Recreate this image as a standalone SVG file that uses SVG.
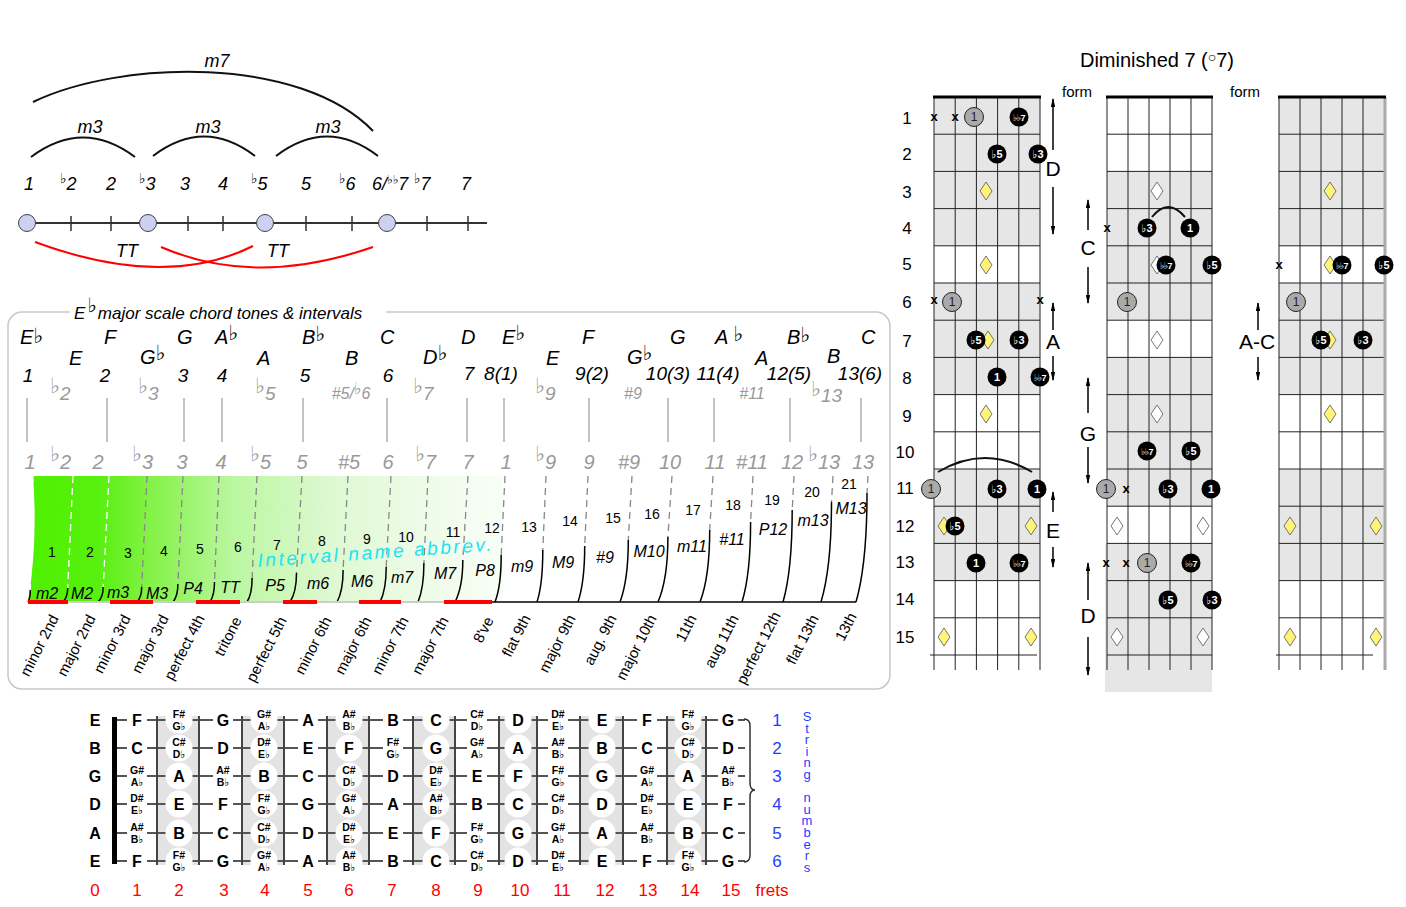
<svg xmlns="http://www.w3.org/2000/svg" width="1406" height="907" viewBox="0 0 1406 907">
<style>
text{font-family:"Liberation Sans",Arial,"DejaVu Sans",sans-serif;fill:#000}
.t18{font-size:18px;font-style:italic}
.c{text-anchor:middle}
.nm{font-size:20px;font-style:italic}
.num{font-size:19px;font-style:italic}
.gr{fill:#999}
.fb{font-size:21px}
.n1{font-size:14px;text-anchor:middle}
.ab{font-size:16px;font-style:italic;text-anchor:middle}
.rl{font-size:15px;text-anchor:end}
.arc{fill:none;stroke:#111;stroke-width:2}
.red{fill:none;stroke:#f00;stroke-width:2}
.fn{font-size:16px;font-weight:bold;text-anchor:middle}
.fa{font-size:10.5px;font-weight:bold;text-anchor:middle}
.fr{font-size:17px;fill:#f00;text-anchor:middle}
.sn{font-size:17px;fill:#1f3dff;text-anchor:middle}
.sh{fill:#e3e3e3}
.cs{fill:#e6e6e6}
.grid{fill:none;stroke:#222;stroke-width:1}
.wc{fill:#fff}
.bc{fill:#000}
.bt{font-size:11px;font-weight:bold;fill:#fff;text-anchor:middle}
.bt2{font-size:9px;font-weight:bold;fill:#fff;text-anchor:middle;letter-spacing:-0.5px}
.gc{fill:#aaa;stroke:#222;stroke-width:1}
.gt{font-size:12px;fill:#222;text-anchor:middle}
.x{font-size:13px;font-weight:bold;text-anchor:middle}
.lb{font-size:21px;text-anchor:middle}
.fl{font-size:17px;text-anchor:middle}
.ar{stroke:#000;stroke-width:1.5;marker-end:url(#ah)}
</style>
<defs>
<marker id="ah" viewBox="0 0 10 5" refX="9" refY="2.5" markerWidth="6" markerHeight="3" orient="auto"><path d="M0,0L10,2.5L0,5Z" fill="#000"/></marker>
<path id="dy" d="M0,-9L6,0L0,9L-6,0Z" fill="#fff37a" stroke="#555" stroke-width="0.8"/>
<path id="dw" d="M0,-9L6,0L0,9L-6,0Z" fill="#fff" stroke="#555" stroke-width="0.8"/>
<linearGradient id="gg" x1="28" y1="0" x2="503" y2="0" gradientUnits="userSpaceOnUse">
<stop offset="0" stop-color="#4ff000"/>
<stop offset="0.15" stop-color="#58f010"/>
<stop offset="0.26" stop-color="#85f248"/>
<stop offset="0.43" stop-color="#b9f79f"/>
<stop offset="0.64" stop-color="#def9d2"/>
<stop offset="0.89" stop-color="#f2fcee"/>
<stop offset="1" stop-color="#f8fef6"/>
</linearGradient>
</defs>
<rect width="1406" height="907" fill="#fff"/>

<g id="interval-line">
<path class="arc" d="M33,102 C120,60 300,55 373,131"/>
<path class="arc" d="M31,157 Q83,118 135,157"/>
<path class="arc" d="M153,156 Q204,117 255,156"/>
<path class="arc" d="M276,156 Q327,117 378,156"/>
<text class="t18 c" x="217" y="67">m7</text>
<text class="t18 c" x="90" y="133">m3</text>
<text class="t18 c" x="208" y="133">m3</text>
<text class="t18 c" x="328" y="133">m3</text>
<text class="t18 c" x="29" y="190">1</text>
<text class="t18" x="60" y="190"><tspan font-size="14" dy="-7">♭</tspan><tspan dy="7">2</tspan></text>
<text class="t18 c" x="111" y="190">2</text>
<text class="t18" x="139" y="190"><tspan font-size="14" dy="-7">♭</tspan><tspan dy="7">3</tspan></text>
<text class="t18 c" x="185" y="190">3</text>
<text class="t18 c" x="223" y="190">4</text>
<text class="t18" x="251" y="190"><tspan font-size="14" dy="-7">♭</tspan><tspan dy="7">5</tspan></text>
<text class="t18 c" x="306" y="190">5</text>
<text class="t18" x="339" y="190"><tspan font-size="14" dy="-7">♭</tspan><tspan dy="7">6</tspan></text>
<text class="t18" x="372" y="190" font-size="16">6/<tspan font-size="12" dy="-6">♭♭</tspan><tspan dy="6">7</tspan></text>
<text class="t18" x="414" y="190"><tspan font-size="14" dy="-7">♭</tspan><tspan dy="7">7</tspan></text>
<text class="t18 c" x="466" y="190">7</text>
<line x1="27" y1="223" x2="487" y2="223" stroke="#333" stroke-width="2"/>
<path d="M71,216V231M111,216V231M188,216V231M223,216V231M306,216V231M352,216V231M427,216V231M468,216V231" stroke="#333" stroke-width="1.5"/>
<circle cx="27" cy="223" r="8.5" fill="#ccd1f2" stroke="#444" stroke-width="1"/>
<circle cx="148" cy="223" r="8.5" fill="#ccd1f2" stroke="#444" stroke-width="1"/>
<circle cx="265" cy="223" r="8.5" fill="#ccd1f2" stroke="#444" stroke-width="1"/>
<circle cx="387" cy="223" r="8.5" fill="#ccd1f2" stroke="#444" stroke-width="1"/>
<path class="red" d="M35,242 Q165,290 253,246"/>
<path class="red" d="M161,247 Q255,288 373,247"/>
<text class="t18 c" x="127" y="257">TT</text>
<text class="t18 c" x="278" y="257">TT</text>
</g>

<g id="chord-tones">
<rect x="8" y="312" width="882" height="377" rx="14" fill="none" stroke="#c8c8c8" stroke-width="1.5"/>
<rect x="70" y="300" width="316" height="22" fill="#fff"/>
<text font-size="17" font-style="italic" x="74" y="319">E<tspan font-size="20" dy="-7" dx="2">♭</tspan><tspan dy="7" dx="1">major scale chord tones &amp; intervals</tspan></text>

<text class="nm" x="20" y="344">E<tspan class="fb" dy="-1">♭</tspan></text>
<text class="nm" x="69" y="365">E</text>
<text class="nm" x="104" y="344">F</text>
<text class="nm" x="140" y="364">G<tspan class="fb" dy="-4">♭</tspan></text>
<text class="nm" x="177" y="344">G</text>
<text class="nm" x="215" y="344">A<tspan class="fb" dy="-4">♭</tspan></text>
<text class="nm" x="257" y="365">A</text>
<text class="nm" x="302" y="344">B<tspan class="fb" dy="-3">♭</tspan></text>
<text class="nm" x="345" y="365">B</text>
<text class="nm" x="380" y="344">C</text>
<text class="nm" x="423" y="364">D<tspan class="fb" dy="-4">♭</tspan></text>
<text class="nm" x="461" y="344">D</text>
<text class="nm" x="502" y="344">E<tspan class="fb" dy="-4">♭</tspan></text>
<text class="nm" x="546" y="365">E</text>
<text class="nm" x="582" y="344">F</text>
<text class="nm" x="627" y="364">G<tspan class="fb" dy="-4">♭</tspan></text>
<text class="nm" x="670" y="344">G</text>
<text class="nm" x="715" y="344">A <tspan class="fb" dy="-3">♭</tspan></text>
<text class="nm" x="755" y="365">A</text>
<text class="nm" x="787" y="344">B<tspan class="fb" dy="-2">♭</tspan></text>
<text class="nm" x="827" y="363">B</text>
<text class="nm" x="861" y="344">C</text>

<text class="num c" x="28" y="382">1</text>
<text class="num c" x="105" y="382">2</text>
<text class="num c" x="183" y="382">3</text>
<text class="num c" x="222" y="382">4</text>
<text class="num c" x="305" y="382">5</text>
<text class="num c" x="388" y="382">6</text>
<text class="num c" x="469" y="380">7</text>
<text class="num c" x="501" y="380">8(1)</text>
<text class="num c" x="592" y="380">9(2)</text>
<text class="num c" x="668" y="380">10(3)</text>
<text class="num c" x="718" y="380">11(4)</text>
<text class="num c" x="789" y="380">12(5)</text>
<text class="num c" x="860" y="380">13(6)</text>

<g>
<text class="num gr" x="50" y="400"><tspan class="fb" dy="-7">♭</tspan><tspan dy="7">2</tspan></text>
<text class="num gr" x="138" y="400"><tspan class="fb" dy="-7">♭</tspan><tspan dy="7">3</tspan></text>
<text class="num gr" x="255" y="400"><tspan class="fb" dy="-7">♭</tspan><tspan dy="7">5</tspan></text>
<text class="gr c" font-size="16" font-style="italic" x="351" y="399">#5/<tspan font-size="16" dy="-5">♭</tspan><tspan dy="5">6</tspan></text>
<text class="num gr" x="413" y="400"><tspan class="fb" dy="-7">♭</tspan><tspan dy="7">7</tspan></text>
<text class="num gr" x="535" y="400"><tspan class="fb" dy="-7">♭</tspan><tspan dy="7">9</tspan></text>
<text class="gr c" font-size="16" font-style="italic" x="633" y="399">#9</text>
<text class="gr c" font-size="16" font-style="italic" x="752" y="399">#11</text>
<text class="num gr" x="811" y="402"><tspan class="fb" dy="-6">♭</tspan><tspan dy="6">13</tspan></text>
</g>

<path d="M27,398V442M107,398V442M184,398V442M222,398V442M303,398V442M387,398V442M467,398V442M504,398V442M589,398V442M668,398V442M714,398V442M790,398V442M861,398V442" stroke="#b0b0b0" stroke-width="1.5"/>

<g font-size="20" font-style="italic">
<text class="gr c" x="30" y="469">1</text>
<text class="gr" x="50" y="469"><tspan class="fb" dy="-8">♭</tspan><tspan dy="8">2</tspan></text>
<text class="gr c" x="98" y="469">2</text>
<text class="gr" x="132" y="469"><tspan class="fb" dy="-8">♭</tspan><tspan dy="8">3</tspan></text>
<text class="gr c" x="182" y="469">3</text>
<text class="gr c" x="221" y="469">4</text>
<text class="gr" x="250" y="469"><tspan class="fb" dy="-8">♭</tspan><tspan dy="8">5</tspan></text>
<text class="gr c" x="302" y="469">5</text>
<text class="gr c" x="349" y="469">#5</text>
<text class="gr c" x="388" y="469">6</text>
<text class="gr" x="415" y="469"><tspan class="fb" dy="-8">♭</tspan><tspan dy="8">7</tspan></text>
<text class="gr c" x="468" y="469">7</text>
<text class="gr c" x="506" y="469">1</text>
<text class="gr" x="535" y="469"><tspan class="fb" dy="-8">♭</tspan><tspan dy="8">9</tspan></text>
<text class="gr c" x="589" y="469">9</text>
<text class="gr c" x="629" y="469">#9</text>
<text class="gr c" x="670" y="469">10</text>
<text class="gr c" x="715" y="469">11</text>
<text class="gr c" x="752" y="469">#11</text>
<text class="gr c" x="792" y="469">12</text>
<text class="gr" x="808" y="469"><tspan class="fb" dy="-8">♭</tspan><tspan dy="8">13</tspan></text>
<text class="gr c" x="863" y="469">13</text>
</g>

<path d="M33,476L503,476L503,602L28,602Q38,540 33,476Z" fill="url(#gg)"/>
<path d="M33,476L30.3,590M73,476L67.7,588M109,476L103.2,587" fill="none" stroke="#fff" stroke-width="1.3" stroke-dasharray="7 5"/>
<path d="M147,476L141.7,587M183,476L177.9,584M219,476L214.5,582M257,476L252.1,578M302,476L296.5,573M348,476L343.1,570M391,476L386.2,567M428,476L423.9,563M468,476L462.8,560M505,476L501.2,555M546,476L542.8,550M588,476L584.7,546M632,476L628.3,540M672,476L667.9,537M713,476L709.7,530M753,476L750.6,522M794,476L792.2,510M833,476L831.5,502M868,476L867,493" fill="none" stroke="#888" stroke-width="1.3" stroke-dasharray="7 5"/>
<path d="M30.3,590Q30.3,598 28,602M67.7,588Q67.7,597 63,602M103.2,587Q103.2,597 98,602M141.7,587Q141.7,597 137,602M177.9,584Q177.9,596 173,602M214.5,582Q214.5,595 210,602M252.1,578Q252.1,594 247,602M296.5,573Q296.5,592 290,602M343.1,570Q343.1,591 337,602M386.2,567Q386.2,590 380,602M423.9,563Q423.9,588 418,602M462.8,560Q462.8,587 455,602M501.2,555Q501.2,586 495,602M542.8,550Q542.8,584 537,602M584.7,546Q584.7,582 578,602M628.3,540Q628.3,580 620,602M667.9,537Q667.9,579 658,602M709.7,530Q709.7,577 700,602M750.6,522Q750.6,574 742,602M792.2,510Q792.2,570 783,602M831.5,502Q831.5,567 821,602M867,493Q867,564 856,602" fill="none" stroke="#000" stroke-width="1.5"/>
<line x1="28" y1="602" x2="492" y2="602" stroke="#ccc" stroke-width="2"/>
<line x1="492" y1="602" x2="856" y2="602" stroke="#000" stroke-width="1.5"/>
<g fill="#f00">
<rect x="28" y="600" width="40" height="4"/>
<rect x="110" y="600" width="43" height="4"/>
<rect x="196" y="600" width="44" height="4"/>
<rect x="283" y="600" width="34" height="4"/>
<rect x="359" y="600" width="42" height="4"/>
<rect x="444" y="600" width="48" height="4"/>
</g>

<text class="n1" x="52" y="557">1</text>
<text class="n1" x="90" y="557">2</text>
<text class="n1" x="128" y="558">3</text>
<text class="n1" x="164" y="556">4</text>
<text class="n1" x="200" y="554">5</text>
<text class="n1" x="238" y="552">6</text>
<text class="n1" x="277" y="550">7</text>
<text class="n1" x="322" y="546">8</text>
<text class="n1" x="367" y="544">9</text>
<text class="n1" x="406" y="542">10</text>
<text class="n1" x="453" y="537">11</text>
<text class="n1" x="492" y="533">12</text>
<text class="n1" x="529" y="532">13</text>
<text class="n1" x="570" y="526">14</text>
<text class="n1" x="613" y="523">15</text>
<text class="n1" x="652" y="519">16</text>
<text class="n1" x="693" y="515">17</text>
<text class="n1" x="733" y="510">18</text>
<text class="n1" x="772" y="505">19</text>
<text class="n1" x="812" y="497">20</text>
<text class="n1" x="849" y="489">21</text>

<text class="ab" x="47" y="599">m2</text>
<text class="ab" x="82" y="599">M2</text>
<text class="ab" x="118" y="598">m3</text>
<text class="ab" x="157" y="599">M3</text>
<text class="ab" x="193" y="594">P4</text>
<text class="ab" x="230" y="593">TT</text>
<text class="ab" x="275" y="591">P5</text>
<text class="ab" x="318" y="589">m6</text>
<text class="ab" x="362" y="587">M6</text>
<text class="ab" x="402" y="583">m7</text>
<text class="ab" x="445" y="579">M7</text>
<text class="ab" x="485" y="576">P8</text>
<text class="ab" x="522" y="572">m9</text>
<text class="ab" x="563" y="568">M9</text>
<text class="ab" x="605" y="563">#9</text>
<text class="ab" x="649" y="557">M10</text>
<text class="ab" x="692" y="552">m11</text>
<text class="ab" x="732" y="545">#11</text>
<text class="ab" x="773" y="535">P12</text>
<text class="ab" x="813" y="526">m13</text>
<text class="ab" x="851" y="514">M13</text>

<text transform="translate(258,567) rotate(-4)" font-size="19" font-style="italic" letter-spacing="2.6" style="fill:#1ee3f3">Interval name abbrev.</text>

<g>
<text class="rl" transform="translate(59,618) rotate(-63)">minor 2nd</text>
<text class="rl" transform="translate(96,618) rotate(-63)">major 2nd</text>
<text class="rl" transform="translate(131,618) rotate(-63)">minor 3rd</text>
<text class="rl" transform="translate(169,618) rotate(-63)">major 3rd</text>
<text class="rl" transform="translate(205,618) rotate(-63)">perfect 4th</text>
<text class="rl" transform="translate(242,620) rotate(-63)">tritone</text>
<text class="rl" transform="translate(287,620) rotate(-63)">perfect 5th</text>
<text class="rl" transform="translate(332,620) rotate(-63)">minor 6th</text>
<text class="rl" transform="translate(372,620) rotate(-63)">major 6th</text>
<text class="rl" transform="translate(409,620) rotate(-63)">minor 7th</text>
<text class="rl" transform="translate(449,620) rotate(-63)">major 7th</text>
<text class="rl" transform="translate(494,620) rotate(-63)">8've</text>
<text class="rl" transform="translate(531,618) rotate(-63)">flat 9th</text>
<text class="rl" transform="translate(576,618) rotate(-63)">major 9th</text>
<text class="rl" transform="translate(617,618) rotate(-63)">aug. 9th</text>
<text class="rl" transform="translate(657,618) rotate(-63)">major 10th</text>
<text class="rl" transform="translate(697,618) rotate(-63)">11th</text>
<text class="rl" transform="translate(739,618) rotate(-63)">aug 11th</text>
<text class="rl" transform="translate(781,615) rotate(-63)">perfect 12th</text>
<text class="rl" transform="translate(819,618) rotate(-63)">flat 13th</text>
<text class="rl" transform="translate(857,616) rotate(-63)">13th</text>
</g>
</g>

<g id="fretboard">
<rect class="sh" x="157" y="716" width="42" height="149"/>
<rect class="sh" x="242" y="716" width="42" height="149"/>
<rect class="sh" x="327" y="716" width="42" height="149"/>
<rect class="sh" x="413" y="716" width="42" height="149"/>
<rect class="sh" x="499" y="716" width="38" height="149"/>
<rect class="sh" x="580" y="716" width="43" height="149"/>
<rect class="sh" x="667" y="716" width="39" height="149"/>
<path d="M117,720H745M117,748H745M117,776H745M117,804H745M117,833H745M117,861H745" stroke="#555" stroke-width="2"/>
<path d="M157,716V865M199,716V865M242,716V865M284,716V865M327,716V865M369,716V865M413,716V865M455,716V865M499,716V865M537,716V865M580,716V865M623,716V865M667,716V865M706,716V865" stroke="#444" stroke-width="2"/>
<rect x="112" y="717" width="5" height="147" fill="#000"/>
<path fill="#fff" d="M127,709h20v22h-20zM213,709h20v22h-20zM298,709h20v22h-20zM383,709h20v22h-20zM467,709h20v22h-20zM548,709h20v22h-20zM637,709h20v22h-20zM718,709h20v22h-20z
M127,737h20v22h-20zM213,737h20v22h-20zM298,737h20v22h-20zM383,737h20v22h-20zM467,737h20v22h-20zM548,737h20v22h-20zM637,737h20v22h-20zM718,737h20v22h-20z
M127,765h20v22h-20zM213,765h20v22h-20zM298,765h20v22h-20zM383,765h20v22h-20zM467,765h20v22h-20zM548,765h20v22h-20zM637,765h20v22h-20zM718,765h20v22h-20z
M127,793h20v22h-20zM213,793h20v22h-20zM298,793h20v22h-20zM383,793h20v22h-20zM467,793h20v22h-20zM548,793h20v22h-20zM637,793h20v22h-20zM718,793h20v22h-20z
M127,822h20v22h-20zM213,822h20v22h-20zM298,822h20v22h-20zM383,822h20v22h-20zM467,822h20v22h-20zM548,822h20v22h-20zM637,822h20v22h-20zM718,822h20v22h-20z
M127,850h20v22h-20zM213,850h20v22h-20zM298,850h20v22h-20zM383,850h20v22h-20zM467,850h20v22h-20zM548,850h20v22h-20zM637,850h20v22h-20zM718,850h20v22h-20z"/>
<g class="wc">
<circle cx="179" cy="720" r="13.5"/><circle cx="264" cy="720" r="13.5"/><circle cx="349" cy="720" r="13.5"/><circle cx="436" cy="720" r="13.5"/><circle cx="518" cy="720" r="13.5"/><circle cx="602" cy="720" r="13.5"/><circle cx="688" cy="720" r="13.5"/>
<circle cx="179" cy="748" r="13.5"/><circle cx="264" cy="748" r="13.5"/><circle cx="349" cy="748" r="13.5"/><circle cx="436" cy="748" r="13.5"/><circle cx="518" cy="748" r="13.5"/><circle cx="602" cy="748" r="13.5"/><circle cx="688" cy="748" r="13.5"/>
<circle cx="179" cy="776" r="13.5"/><circle cx="264" cy="776" r="13.5"/><circle cx="349" cy="776" r="13.5"/><circle cx="436" cy="776" r="13.5"/><circle cx="518" cy="776" r="13.5"/><circle cx="602" cy="776" r="13.5"/><circle cx="688" cy="776" r="13.5"/>
<circle cx="179" cy="804" r="13.5"/><circle cx="264" cy="804" r="13.5"/><circle cx="349" cy="804" r="13.5"/><circle cx="436" cy="804" r="13.5"/><circle cx="518" cy="804" r="13.5"/><circle cx="602" cy="804" r="13.5"/><circle cx="688" cy="804" r="13.5"/>
<circle cx="179" cy="833" r="13.5"/><circle cx="264" cy="833" r="13.5"/><circle cx="349" cy="833" r="13.5"/><circle cx="436" cy="833" r="13.5"/><circle cx="518" cy="833" r="13.5"/><circle cx="602" cy="833" r="13.5"/><circle cx="688" cy="833" r="13.5"/>
<circle cx="179" cy="861" r="13.5"/><circle cx="264" cy="861" r="13.5"/><circle cx="349" cy="861" r="13.5"/><circle cx="436" cy="861" r="13.5"/><circle cx="518" cy="861" r="13.5"/><circle cx="602" cy="861" r="13.5"/><circle cx="688" cy="861" r="13.5"/>
</g>
<path d="M744,719Q750,719 750,726L750,783Q750,790 755,790Q750,790 750,797L750,855Q750,862 744,862" fill="none" stroke="#333" stroke-width="1.5"/>

<text class="fn" x="95" y="726">E</text>
<text class="fn" x="95" y="754">B</text>
<text class="fn" x="95" y="782">G</text>
<text class="fn" x="95" y="810">D</text>
<text class="fn" x="95" y="839">A</text>
<text class="fn" x="95" y="867">E</text>

<text class="fn" x="137" y="726">F</text>
<text class="fa" x="179" y="718">F#<tspan x="179" dy="12">G♭</tspan></text>
<text class="fn" x="223" y="726">G</text>
<text class="fa" x="264" y="718">G#<tspan x="264" dy="12">A♭</tspan></text>
<text class="fn" x="308" y="726">A</text>
<text class="fa" x="349" y="718">A#<tspan x="349" dy="12">B♭</tspan></text>
<text class="fn" x="393" y="726">B</text>
<text class="fn" x="436" y="726">C</text>
<text class="fa" x="477" y="718">C#<tspan x="477" dy="12">D♭</tspan></text>
<text class="fn" x="518" y="726">D</text>
<text class="fa" x="558" y="718">D#<tspan x="558" dy="12">E♭</tspan></text>
<text class="fn" x="602" y="726">E</text>
<text class="fn" x="647" y="726">F</text>
<text class="fa" x="688" y="718">F#<tspan x="688" dy="12">G♭</tspan></text>
<text class="fn" x="728" y="726">G</text>

<text class="fn" x="137" y="754">C</text>
<text class="fa" x="179" y="746">C#<tspan x="179" dy="12">D♭</tspan></text>
<text class="fn" x="223" y="754">D</text>
<text class="fa" x="264" y="746">D#<tspan x="264" dy="12">E♭</tspan></text>
<text class="fn" x="308" y="754">E</text>
<text class="fn" x="349" y="754">F</text>
<text class="fa" x="393" y="746">F#<tspan x="393" dy="12">G♭</tspan></text>
<text class="fn" x="436" y="754">G</text>
<text class="fa" x="477" y="746">G#<tspan x="477" dy="12">A♭</tspan></text>
<text class="fn" x="518" y="754">A</text>
<text class="fa" x="558" y="746">A#<tspan x="558" dy="12">B♭</tspan></text>
<text class="fn" x="602" y="754">B</text>
<text class="fn" x="647" y="754">C</text>
<text class="fa" x="688" y="746">C#<tspan x="688" dy="12">D♭</tspan></text>
<text class="fn" x="728" y="754">D</text>

<text class="fa" x="137" y="774">G#<tspan x="137" dy="12">A♭</tspan></text>
<text class="fn" x="179" y="782">A</text>
<text class="fa" x="223" y="774">A#<tspan x="223" dy="12">B♭</tspan></text>
<text class="fn" x="264" y="782">B</text>
<text class="fn" x="308" y="782">C</text>
<text class="fa" x="349" y="774">C#<tspan x="349" dy="12">D♭</tspan></text>
<text class="fn" x="393" y="782">D</text>
<text class="fa" x="436" y="774">D#<tspan x="436" dy="12">E♭</tspan></text>
<text class="fn" x="477" y="782">E</text>
<text class="fn" x="518" y="782">F</text>
<text class="fa" x="558" y="774">F#<tspan x="558" dy="12">G♭</tspan></text>
<text class="fn" x="602" y="782">G</text>
<text class="fa" x="647" y="774">G#<tspan x="647" dy="12">A♭</tspan></text>
<text class="fn" x="688" y="782">A</text>
<text class="fa" x="728" y="774">A#<tspan x="728" dy="12">B♭</tspan></text>

<text class="fa" x="137" y="802">D#<tspan x="137" dy="12">E♭</tspan></text>
<text class="fn" x="179" y="810">E</text>
<text class="fn" x="223" y="810">F</text>
<text class="fa" x="264" y="802">F#<tspan x="264" dy="12">G♭</tspan></text>
<text class="fn" x="308" y="810">G</text>
<text class="fa" x="349" y="802">G#<tspan x="349" dy="12">A♭</tspan></text>
<text class="fn" x="393" y="810">A</text>
<text class="fa" x="436" y="802">A#<tspan x="436" dy="12">B♭</tspan></text>
<text class="fn" x="477" y="810">B</text>
<text class="fn" x="518" y="810">C</text>
<text class="fa" x="558" y="802">C#<tspan x="558" dy="12">D♭</tspan></text>
<text class="fn" x="602" y="810">D</text>
<text class="fa" x="647" y="802">D#<tspan x="647" dy="12">E♭</tspan></text>
<text class="fn" x="688" y="810">E</text>
<text class="fn" x="728" y="810">F</text>

<text class="fa" x="137" y="831">A#<tspan x="137" dy="12">B♭</tspan></text>
<text class="fn" x="179" y="839">B</text>
<text class="fn" x="223" y="839">C</text>
<text class="fa" x="264" y="831">C#<tspan x="264" dy="12">D♭</tspan></text>
<text class="fn" x="308" y="839">D</text>
<text class="fa" x="349" y="831">D#<tspan x="349" dy="12">E♭</tspan></text>
<text class="fn" x="393" y="839">E</text>
<text class="fn" x="436" y="839">F</text>
<text class="fa" x="477" y="831">F#<tspan x="477" dy="12">G♭</tspan></text>
<text class="fn" x="518" y="839">G</text>
<text class="fa" x="558" y="831">G#<tspan x="558" dy="12">A♭</tspan></text>
<text class="fn" x="602" y="839">A</text>
<text class="fa" x="647" y="831">A#<tspan x="647" dy="12">B♭</tspan></text>
<text class="fn" x="688" y="839">B</text>
<text class="fn" x="728" y="839">C</text>

<text class="fn" x="137" y="867">F</text>
<text class="fa" x="179" y="859">F#<tspan x="179" dy="12">G♭</tspan></text>
<text class="fn" x="223" y="867">G</text>
<text class="fa" x="264" y="859">G#<tspan x="264" dy="12">A♭</tspan></text>
<text class="fn" x="308" y="867">A</text>
<text class="fa" x="349" y="859">A#<tspan x="349" dy="12">B♭</tspan></text>
<text class="fn" x="393" y="867">B</text>
<text class="fn" x="436" y="867">C</text>
<text class="fa" x="477" y="859">C#<tspan x="477" dy="12">D♭</tspan></text>
<text class="fn" x="518" y="867">D</text>
<text class="fa" x="558" y="859">D#<tspan x="558" dy="12">E♭</tspan></text>
<text class="fn" x="602" y="867">E</text>
<text class="fn" x="647" y="867">F</text>
<text class="fa" x="688" y="859">F#<tspan x="688" dy="12">G♭</tspan></text>
<text class="fn" x="728" y="867">G</text>

<text class="fr" x="95" y="896">0</text>
<text class="fr" x="137" y="896">1</text>
<text class="fr" x="179" y="896">2</text>
<text class="fr" x="224" y="896">3</text>
<text class="fr" x="265" y="896">4</text>
<text class="fr" x="308" y="896">5</text>
<text class="fr" x="349" y="896">6</text>
<text class="fr" x="392" y="896">7</text>
<text class="fr" x="436" y="896">8</text>
<text class="fr" x="478" y="896">9</text>
<text class="fr" x="520" y="896">10</text>
<text class="fr" x="562" y="896">11</text>
<text class="fr" x="605" y="896">12</text>
<text class="fr" x="648" y="896">13</text>
<text class="fr" x="690" y="896">14</text>
<text class="fr" x="731" y="896">15</text>
<text class="fr" x="772" y="896">frets</text>

<text class="sn" x="777" y="726">1</text>
<text class="sn" x="777" y="754">2</text>
<text class="sn" x="777" y="782">3</text>
<text class="sn" x="777" y="810">4</text>
<text class="sn" x="777" y="839">5</text>
<text class="sn" x="777" y="867">6</text>
<text x="807" y="709" font-size="13" letter-spacing="-3.4" style="fill:#1f3dff;writing-mode:vertical-rl;text-orientation:upright">String numbers</text>
</g>

<g id="chord-title">
<text font-size="20" x="1157" y="67" text-anchor="middle">Diminished 7 (<tspan font-size="14" dy="-5">○</tspan><tspan dy="5">7)</tspan></text>
<text font-size="15" x="1077" y="97" text-anchor="middle">form</text>
<text font-size="15" x="1245" y="97" text-anchor="middle">form</text>
</g>
<g id="fret-numbers">
<text class="fl" x="907" y="124">1</text>
<text class="fl" x="907" y="160">2</text>
<text class="fl" x="907" y="198">3</text>
<text class="fl" x="907" y="234">4</text>
<text class="fl" x="907" y="270">5</text>
<text class="fl" x="907" y="308">6</text>
<text class="fl" x="907" y="347">7</text>
<text class="fl" x="907" y="384">8</text>
<text class="fl" x="907" y="422">9</text>
<text class="fl" x="905" y="458">10</text>
<text class="fl" x="905" y="494">11</text>
<text class="fl" x="905" y="532">12</text>
<text class="fl" x="905" y="568">13</text>
<text class="fl" x="905" y="605">14</text>
<text class="fl" x="905" y="643">15</text>
</g>

<g id="diagram-1">
<rect class="cs" x="934" y="97" width="106" height="148.8"/>
<rect class="cs" x="934" y="283" width="106" height="111.6"/>
<rect class="cs" x="934" y="469" width="106" height="111.6"/>
<path class="grid" d="M934,97V670M955.2,97V670M976.4,97V670M997.6,97V670M1018.8,97V670M1040,97V670M934,134.2H1040M934,171.4H1040M934,208.6H1040M934,245.8H1040M934,283H1040M934,320.2H1040M934,357.4H1040M934,394.6H1040M934,431.8H1040M934,469H1040M934,506.2H1040M934,543.4H1040M934,580.6H1040M934,617.8H1040M930,655H1037"/>
<line x1="933" y1="97" x2="1041" y2="97" stroke="#000" stroke-width="3"/>
<use href="#dy" x="986" y="191"/>
<use href="#dy" x="986" y="265"/>
<use href="#dy" x="988" y="340"/>
<use href="#dy" x="986" y="414"/>
<use href="#dy" x="944" y="526"/>
<use href="#dy" x="1031" y="526"/>
<use href="#dy" x="944" y="637"/>
<use href="#dy" x="1031" y="637"/>
<text class="x" x="934" y="121">x</text>
<text class="x" x="955" y="121">x</text>
<circle class="gc" cx="974" cy="117" r="9.5"/><text class="gt" x="974" y="121">1</text>
<circle class="bc" cx="1019" cy="117" r="9.5"/><text class="bt2" x="1019" y="121">♭♭7</text>
<circle class="bc" cx="997" cy="154" r="9.5"/><text class="bt" x="997" y="158">♭5</text>
<circle class="bc" cx="1038" cy="154" r="9.5"/><text class="bt" x="1038" y="158">♭3</text>
<text class="x" x="934" y="304">x</text>
<circle class="gc" cx="952" cy="302" r="9.5"/><text class="gt" x="952" y="306">1</text>
<text class="x" x="1040" y="304">x</text>
<circle class="bc" cx="976" cy="340" r="9.5"/><text class="bt" x="976" y="344">♭5</text>
<circle class="bc" cx="1019" cy="340" r="9.5"/><text class="bt" x="1019" y="344">♭3</text>
<circle class="bc" cx="997" cy="377" r="9.5"/><text class="bt" x="997" y="381">1</text>
<circle class="bc" cx="1040" cy="377" r="9.5"/><text class="bt2" x="1040" y="381">♭♭7</text>
<path class="arc" d="M938,472 Q985,444 1032,472"/>
<circle class="gc" cx="931" cy="489" r="9.5"/><text class="gt" x="931" y="493">1</text>
<circle class="bc" cx="997" cy="489" r="9.5"/><text class="bt" x="997" y="493">♭3</text>
<circle class="bc" cx="1037" cy="489" r="9.5"/><text class="bt" x="1037" y="493">1</text>
<circle class="bc" cx="955" cy="526" r="9.5"/><text class="bt" x="955" y="530">♭5</text>
<circle class="bc" cx="976" cy="563" r="9.5"/><text class="bt" x="976" y="567">1</text>
<circle class="bc" cx="1019" cy="563" r="9.5"/><text class="bt2" x="1019" y="567">♭♭7</text>
</g>

<g id="diagram-2">
<rect class="cs" x="1107" y="171.4" width="105" height="148.8"/>
<rect class="cs" x="1107" y="357.4" width="105" height="148.8"/>
<rect class="cs" x="1105" y="543.4" width="107" height="148.6"/>
<path class="grid" d="M1107,97V670M1128,97V670M1149,97V670M1170,97V670M1191,97V670M1212,97V670M1107,134.2H1212M1107,171.4H1212M1107,208.6H1212M1107,245.8H1212M1107,283H1212M1107,320.2H1212M1107,357.4H1212M1107,394.6H1212M1107,431.8H1212M1107,469H1212M1107,506.2H1212M1107,543.4H1212M1107,580.6H1212M1107,617.8H1212M1107,655H1212"/>
<line x1="1106" y1="97" x2="1213" y2="97" stroke="#000" stroke-width="3"/>
<use href="#dw" x="1157" y="191"/>
<use href="#dw" x="1157" y="265"/>
<use href="#dw" x="1157" y="340"/>
<use href="#dw" x="1157" y="414"/>
<use href="#dw" x="1117" y="526"/>
<use href="#dw" x="1203" y="526"/>
<use href="#dw" x="1117" y="637"/>
<use href="#dw" x="1203" y="637"/>
<text class="x" x="1107" y="232">x</text>
<path class="arc" d="M1152,217 Q1168,197 1185,217"/>
<circle class="bc" cx="1147" cy="228" r="9.5"/><text class="bt" x="1147" y="232">♭3</text>
<circle class="bc" cx="1190" cy="228" r="9.5"/><text class="bt" x="1190" y="232">1</text>
<circle class="bc" cx="1166" cy="265" r="9.5"/><text class="bt2" x="1166" y="269">♭♭7</text>
<circle class="bc" cx="1212" cy="265" r="9.5"/><text class="bt" x="1212" y="269">♭5</text>
<circle class="gc" cx="1127" cy="302" r="9.5"/><text class="gt" x="1127" y="306">1</text>
<circle class="bc" cx="1147" cy="451" r="9.5"/><text class="bt2" x="1147" y="455">♭♭7</text>
<circle class="bc" cx="1191" cy="451" r="9.5"/><text class="bt" x="1191" y="455">♭5</text>
<circle class="gc" cx="1106" cy="489" r="9.5"/><text class="gt" x="1106" y="493">1</text>
<text class="x" x="1126" y="493">x</text>
<circle class="bc" cx="1168" cy="489" r="9.5"/><text class="bt" x="1168" y="493">♭3</text>
<circle class="bc" cx="1211" cy="489" r="9.5"/><text class="bt" x="1211" y="493">1</text>
<text class="x" x="1106" y="567">x</text>
<text class="x" x="1126" y="567">x</text>
<circle class="gc" cx="1147" cy="563" r="9.5"/><text class="gt" x="1147" y="567">1</text>
<circle class="bc" cx="1191" cy="563" r="9.5"/><text class="bt2" x="1191" y="567">♭♭7</text>
<circle class="bc" cx="1168" cy="600" r="9.5"/><text class="bt" x="1168" y="604">♭5</text>
<circle class="bc" cx="1212" cy="600" r="9.5"/><text class="bt" x="1212" y="604">♭3</text>
</g>

<g id="diagram-3">
<rect class="cs" x="1279" y="97" width="105" height="148.8"/>
<rect class="cs" x="1279" y="283" width="105" height="111.6"/>
<rect class="cs" x="1279" y="469" width="105" height="111.6"/>
<path class="grid" d="M1279,97V670M1300,97V670M1321,97V670M1342,97V670M1363,97V670M1279,134.2H1384M1279,171.4H1384M1279,208.6H1384M1279,245.8H1384M1279,283H1384M1279,320.2H1384M1279,357.4H1384M1279,394.6H1384M1279,431.8H1384M1279,469H1384M1279,506.2H1384M1279,543.4H1384M1279,580.6H1384M1279,617.8H1384M1276,655H1373"/>
<line x1="1385" y1="97" x2="1385" y2="670" stroke="#aaa" stroke-width="3"/>
<line x1="1278" y1="97" x2="1386" y2="97" stroke="#000" stroke-width="3"/>
<use href="#dy" x="1330" y="191"/>
<use href="#dy" x="1330" y="265"/>
<use href="#dy" x="1330" y="340"/>
<use href="#dy" x="1330" y="414"/>
<use href="#dy" x="1290" y="526"/>
<use href="#dy" x="1376" y="526"/>
<use href="#dy" x="1290" y="637"/>
<use href="#dy" x="1376" y="637"/>
<text class="x" x="1279" y="269">x</text>
<circle class="bc" cx="1342" cy="265" r="9.5"/><text class="bt2" x="1342" y="269">♭♭7</text>
<circle class="bc" cx="1384" cy="265" r="9.5"/><text class="bt" x="1384" y="269">♭5</text>
<circle class="gc" cx="1296" cy="302" r="9.5"/><text class="gt" x="1296" y="306">1</text>
<circle class="bc" cx="1321" cy="340" r="9.5"/><text class="bt" x="1321" y="344">♭5</text>
<circle class="bc" cx="1363" cy="340" r="9.5"/><text class="bt" x="1363" y="344">♭3</text>
</g>

<g id="connectors">
<line class="ar" x1="1053" y1="150" x2="1053" y2="99"/>
<line class="ar" x1="1053" y1="187" x2="1053" y2="234"/>
<line class="ar" x1="1053" y1="330" x2="1053" y2="303"/>
<line class="ar" x1="1053" y1="356" x2="1053" y2="380"/>
<line class="ar" x1="1053" y1="512" x2="1053" y2="492"/>
<line class="ar" x1="1053" y1="547" x2="1053" y2="567"/>
<line class="ar" x1="1088" y1="230" x2="1088" y2="200"/>
<line class="ar" x1="1088" y1="267" x2="1088" y2="303"/>
<line class="ar" x1="1088" y1="413" x2="1088" y2="378"/>
<line class="ar" x1="1088" y1="447" x2="1088" y2="483"/>
<line class="ar" x1="1088" y1="600" x2="1088" y2="563"/>
<line class="ar" x1="1088" y1="637" x2="1088" y2="675"/>
<line class="ar" x1="1258" y1="330" x2="1258" y2="303"/>
<line class="ar" x1="1258" y1="357" x2="1258" y2="380"/>
</g>
<g id="form-labels">
<text class="lb" x="1053" y="176">D</text>
<text class="lb" x="1053" y="349">A</text>
<text class="lb" x="1053" y="538">E</text>
<text class="lb" x="1088" y="255">C</text>
<text class="lb" x="1088" y="441">G</text>
<text class="lb" x="1088" y="623">D</text>
<text class="lb" x="1257" y="349">A-C</text>
</g>
</svg>
